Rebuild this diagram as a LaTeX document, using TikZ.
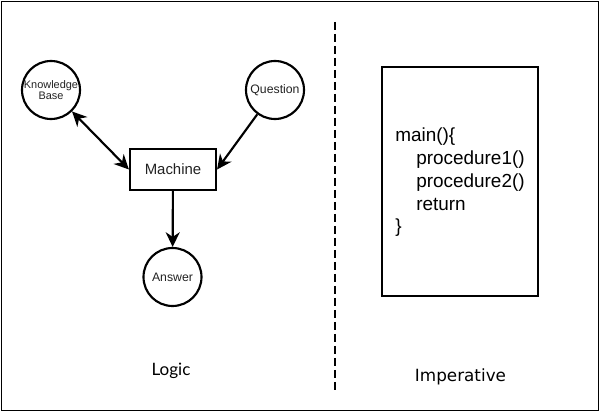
\documentclass[tikz,border=0pt]{standalone}
\usepackage{fontspec}
\setmainfont{Liberation Sans}
\newfontfamily\logicfont{Lato}
\newfontfamily\dejavu{DejaVu Sans}
\usetikzlibrary{arrows.meta}
\definecolor{txt}{HTML}{222222}
\tikzset{
  circ/.style={circle, draw, line width=1.6pt, minimum size=43.5pt, inner sep=0pt, align=center, text=txt},
  mbox/.style={rectangle, draw, line width=1.6pt, minimum width=64.5pt, minimum height=30.75pt, inner sep=0pt, text=txt, font=\fontsize{11.2}{13}\selectfont},
  arr/.style={line width=1.6pt, -{Stealth[length=11pt, width=10.5pt, inset=3.5pt]}},
  darr/.style={line width=1.6pt, {Stealth[length=11pt, width=10.5pt, inset=3.5pt]}-{Stealth[length=11pt, width=10.5pt, inset=3.5pt]}},
  codeline/.style={anchor=base west, inner sep=0pt, font=\fontsize{14.2}{17}\selectfont},
}
\begin{document}
\begin{tikzpicture}[x=0.75pt, y=-0.75pt]
\useasboundingbox (0,0) rectangle (600,413);
\draw[line width=1.2pt] (1.5,1.5) rectangle (598.5,410.5);
% logic side
\node[circ, font=\fontsize{8.2}{8.8}\selectfont] (kb) at (51,90) {Knowledge\\Base};
\node[circ, font=\fontsize{9.2}{10}\selectfont] (q) at (275,90) {Question};
\node[mbox] (m) at (173,169.5) {Machine};
\node[circ, font=\fontsize{9.2}{10}\selectfont] (a) at (172.5,277) {Answer};
\draw[darr] (kb) -- (m.west);
\draw[arr] (q) -- (m.east);
\draw[arr] (m) -- (a);
\node[font=\logicfont\fontsize{12.8}{14}\selectfont, anchor=base, inner sep=0pt] (logic) at (171,375) {Logic};
% divider
\coordinate (d1) at (335,22);
\coordinate (d2) at (335,393);
\draw[line width=1.6pt, dash pattern=on 6pt off 3pt] (d1) -- (d2);
% imperative side
\node[draw, line width=1.6pt, minimum width=117.5pt, minimum height=171.75pt, inner sep=0pt] (code) at (460,181.2) {};
\node[codeline] (l1) at (395,141.7) {main()\{};
\node[codeline] (l2) at (416,164.5) {procedure1()};
\node[codeline] (l3) at (416,187.3) {procedure2()};
\node[codeline] (l4) at (416,210.1) {return};
\node[codeline] (l5) at (395,232.9) {\}};
\node[font=\dejavu\fontsize{12.6}{14}\selectfont, anchor=base, inner sep=0pt] (imp) at (460.5,382) {Imperative};
\end{tikzpicture}
\end{document}
